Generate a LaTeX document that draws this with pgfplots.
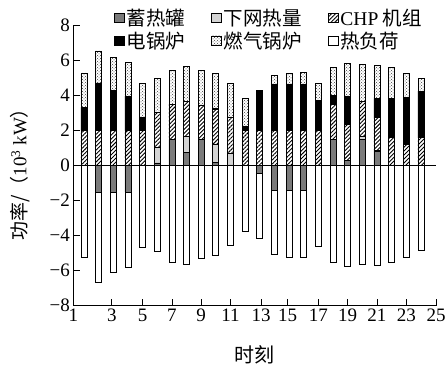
\documentclass[border=0pt]{standalone}
\usepackage{pgfplots}
\pgfplotsset{compat=1.18}
\usepackage{pgfplotstable}
\usetikzlibrary{patterns,patterns.meta}
\usepackage{fontspec}
\setmainfont{Liberation Serif}
\newfontfamily\cjk{Noto Sans CJK SC}

% hourly heat balance (10^3 kW); storage: + discharge, - charge
\pgfplotstableread{
h st grid chp eb gas load
1 0 0 2.00 1.33 1.97 -5.21
2 -1.50 0 2.00 2.73 1.83 -5.14
3 -1.50 0 2.00 2.31 1.87 -4.62
4 -1.50 0 2.00 1.97 1.91 -4.32
5 0 0 2.00 0.75 1.95 -4.64
6 0.16 0.88 1.98 0 1.96 -4.92
7 1.51 0 1.99 0 1.96 -5.50
8 0.75 0.95 1.95 0 2.00 -5.65
9 1.51 0 1.93 0 1.98 -5.30
10 0.21 1.00 2.00 0.06 2.00 -5.11
11 0.04 0.65 2.06 0 1.95 -4.58
12 0 0 2.00 0.22 1.62 -3.78
13 -0.45 0 2.00 2.31 0 -3.71
14 -1.42 0 2.00 2.66 0.51 -3.66
15 -1.42 0 2.00 2.66 0.61 -3.83
16 -1.42 0 2.00 2.66 0.66 -3.83
17 0 0 2.00 1.74 0.96 -4.60
18 1.49 0 2.01 0.53 1.58 -5.53
19 0.28 0 2.07 1.62 1.87 -5.74
20 1.49 0.20 1.96 0 2.13 -5.63
21 0.83 0.05 1.91 1.05 1.90 -5.69
22 0 0 1.61 2.23 1.77 -5.53
23 0 0 1.23 2.67 1.37 -5.25
24 0 0 1.61 2.65 0.72 -4.83
}\data

\definecolor{stgray}{RGB}{122,122,122}
\definecolor{gridgray}{RGB}{212,212,212}

\begin{document}
\begin{tikzpicture}
\path[use as bounding box] (-73.3pt,-63.3pt) rectangle (373.7pt,305.7pt);
\begin{axis}[
  anchor=south west, at={(0pt,0pt)},
  scale only axis, width=362.7pt, height=280pt,
  ybar stacked, stack negative=separate,
  bar width=6pt,
  xmin=0.27, xmax=25.03, ymin=-8, ymax=8,
  axis x line*=bottom, axis y line*=left,
  tick align=inside, major tick length=7pt,
  xtick={0.27,2.9,5,7,9,11,13.1,14.9,17,19,21,23,25.03},
  xticklabels={1,3,5,7,9,11,13,15,17,19,21,23,25},
  ytick={-8,-6,...,8},
  yticklabels={−8,−6,−4,−2,0,2,4,6,8},
  tick label style={font=\fontsize{19}{19}\selectfont},
  extra y ticks={0}, extra y tick labels={},
  extra y tick style={grid=major, major grid style={black, line width=0.7pt}, major tick length=0pt},
  axis line style={line width=0.7pt},
  every tick/.style={black, line width=0.7pt},
  xlabel={\cjk 时刻},
  xlabel style={at={(axis description cs:0.5,-0.175)}, anchor=center, font=\fontsize{20}{20}\selectfont},
  ylabel={{\cjk 功率/（}10\textsuperscript{3} kW{\cjk ）}},
  ylabel style={at={(axis description cs:-0.147,0.485)}, anchor=center, font=\fontsize{19}{19}\selectfont},
  every axis plot/.append style={draw=black, line width=0.7pt},
  legend columns=3,
  legend cell align=left,
  legend image code/.code={\draw[#1, line width=0.6pt] (0pt,-4.8pt) rectangle (10pt,4.8pt);},
  legend style={at={(axis description cs:0.112,1.068)}, anchor=north west,
    draw=none, fill=none, font=\cjk\fontsize{19.5}{21}\selectfont,
    inner sep=0pt, row sep=1pt,
    /tikz/every even column/.append style={column sep=24pt}},
]
\addplot[fill=stgray] table[x=h, y=st] {\data};
\addlegendentry{蓄热罐}
\addplot[fill=gridgray] table[x=h, y=grid] {\data};
\addlegendentry{下网热量}
\addplot[fill=white, pattern={Lines[angle=45, distance=2.8pt, line width=0.9pt]}] table[x=h, y=chp] {\data};
\addlegendentry{{\fontspec{Liberation Serif}CHP} 机组}
\addplot[fill=black] table[x=h, y=eb] {\data};
\addlegendentry{电锅炉}
\addplot[fill=white, pattern=crosshatch dots, pattern color=black!75] table[x=h, y=gas] {\data};
\addlegendentry{燃气锅炉}
\addplot[fill=white] table[x=h, y=load] {\data};
\addlegendentry{热负荷}
\end{axis}
\end{tikzpicture}
\end{document}
